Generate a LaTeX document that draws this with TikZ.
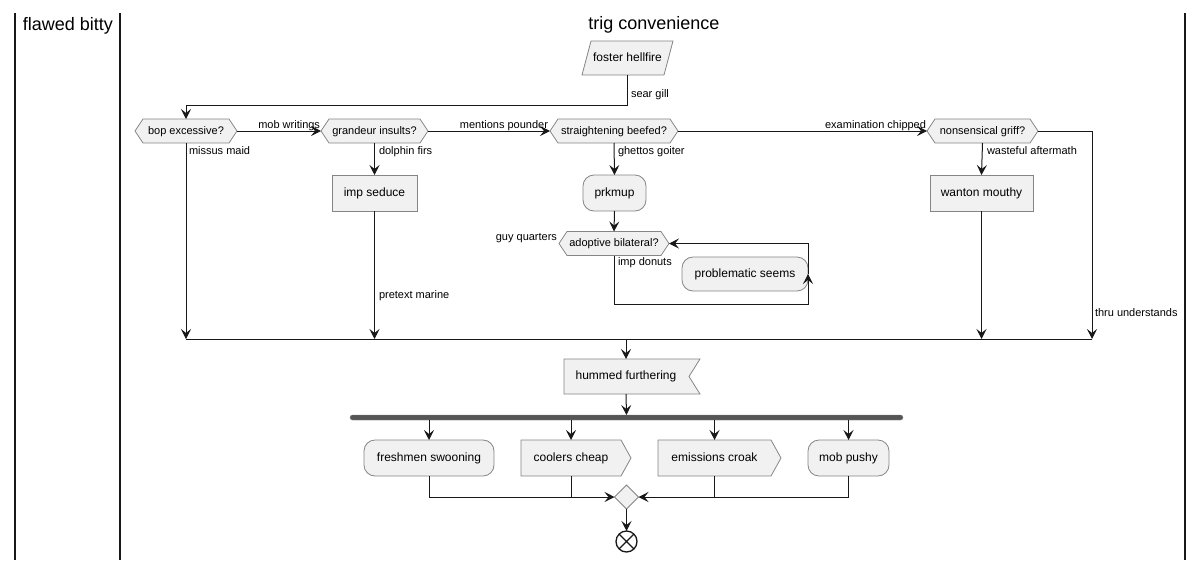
\documentclass[tikz,border=0pt]{standalone}
\usepackage{fontspec}
\setmainfont{Liberation Sans}
\usetikzlibrary{arrows.meta,shapes.geometric,backgrounds,calc}
\definecolor{fillc}{HTML}{F1F1F1}
\definecolor{linec}{HTML}{181818}
\definecolor{bordc}{HTML}{858585}
\definecolor{barc}{HTML}{555555}
\newcommand\hexout[2][8pt]{\path[outline] (#2.west) -- ([xshift=#1]#2.north west) -- ([xshift=-#1]#2.north east) -- (#2.east) -- ([xshift=-#1]#2.south east) -- ([xshift=#1]#2.south west) -- cycle;}
\begin{document}
\begin{tikzpicture}[x=1pt,y=-1pt,
  every node/.style={inner sep=0pt, outer sep=0pt},
  txt/.style={font=\fontsize{12}{14}\selectfont, text height=0.905em, text depth=0.212em},
  lbl/.style={font=\fontsize{11}{13}\selectfont},
  hexlbl/.style={lbl, text height=0.905em, text depth=0.212em, minimum height=24pt},
  ttl/.style={font=\fontsize{18}{22}\selectfont},
  actbox/.style={txt, draw=bordc, line width=0.8pt, fill=fillc, minimum height=36pt},
  roundbox/.style={actbox, rounded corners=11pt},
  outline/.style={draw=bordc, line width=0.8pt, fill=fillc},
  conn/.style={draw=linec, line width=1pt},
  arr/.style={conn, -{Stealth[length=10pt,width=10pt,inset=4pt]}},
  lane/.style={draw=linec, line width=1.5pt},
]
\useasboundingbox (0,0) rectangle (1202,560);
% swimlanes
\draw[lane] (15,13) -- (15,560);
\draw[lane] (120,13) -- (120,560);
\draw[lane] (1185,13) -- (1185,560);
\node[ttl, anchor=base] (t1) at (68,30) {flawed bitty};
\node[ttl, anchor=base] (t2) at (654,29) {trig convenience};

% nodes
\node[txt, minimum width=91pt, minimum height=34pt] (fh) at (627.5,58) {foster hellfire};
\node[hexlbl, minimum width=102pt] (bop) at (186,131) {bop excessive?};
\node[hexlbl, minimum width=107pt] (gi) at (374.5,131) {grandeur insults?};
\node[hexlbl, minimum width=128pt] (sb) at (614,131) {straightening beefed?};
\node[hexlbl, minimum width=111pt] (ng) at (982.5,131) {nonsensical griff?};
\node[actbox, minimum width=85pt] (is) at (374.5,193) {imp seduce};
\node[roundbox, minimum width=63pt] (pk) at (614.5,193) {prkmup};
\node[hexlbl, minimum width=110pt] (ab) at (614,243.5) {adoptive bilateral?};
\node[roundbox, minimum width=126pt, minimum height=34pt] (ps) at (745,274) {problematic seems};
\node[actbox, minimum width=103pt] (wm) at (981.5,193) {wanton mouthy};
\node[txt, minimum width=124pt, minimum height=35pt] (hf) at (626,376.5) {hummed furthering};
\node[fill=barc, draw=gray, line width=0.4pt, minimum width=553pt, minimum height=5pt, rounded corners=2.5pt] (bar) at (626.5,417.5) {};
\node[roundbox, minimum width=130pt] (fs) at (429,458) {freshmen swooning};
\node[txt, minimum width=100pt, minimum height=36pt] (cc) at (571,458) {coolers cheap};
\node[txt, minimum width=113pt, minimum height=36pt] (ec) at (714.5,458) {emissions croak};
\node[roundbox, minimum width=81pt] (mp) at (848.5,458) {mob pushy};
\node[diamond, aspect=1, minimum width=24pt, minimum height=24pt, outline] (dm) at (626.5,497) {};
\node[circle, draw=linec, line width=1.3pt, minimum size=21pt] (endn) at (626.5,541.5) {};
\draw[linec, line width=1.3pt] (endn.north west) -- (endn.south east) (endn.north east) -- (endn.south west);

% outlines of custom shapes
\begin{scope}[on background layer]
\path[outline] (fh.south west) -- ([xshift=9pt]fh.north west) -- (fh.north east) -- ([xshift=-9pt]fh.south east) -- cycle;
\hexout{bop}
\hexout{gi}
\hexout{sb}
\hexout{ng}
\hexout{ab}
\path[outline] (hf.north west) -- ([xshift=12pt]hf.north east) -- ([xshift=1pt]hf.east) -- ([xshift=12pt]hf.south east) -- (hf.south west) -- cycle;
\path[outline] (cc.north west) -- (cc.north east) -- ([xshift=10pt]cc.east) -- (cc.south east) -- (cc.south west) -- cycle;
\path[outline] (ec.north west) -- (ec.north east) -- ([xshift=10pt]ec.east) -- (ec.south east) -- (ec.south west) -- cycle;
\end{scope}

% merge coordinates
\coordinate (mL) at (186,339);
\coordinate (mR) at (1092,339);
\coordinate (mC) at (626,339);

% connectors
\draw[arr] (fh.south) -- (fh.south |- 0,105) -| (bop.north);
\node[lbl, anchor=base west] (lsg) at (631,97.5) {sear gill};
\draw[arr] (bop.east) -- (gi.west);
\node[lbl, anchor=base east] (lmw) at (320,128) {mob writings};
\draw[arr] (gi.east) -- (sb.west);
\node[lbl, anchor=base east] (lmp) at (548,128) {mentions pounder};
\draw[arr] (sb.east) -- (ng.west);
\node[lbl, anchor=base east] (lec) at (926,128.5) {examination chipped};

\draw[arr] (bop.south) -- (mL);
\node[lbl, anchor=base west] (lmm) at (189,154) {missus maid};
\draw[arr] (gi.south) -- (is.north);
\node[lbl, anchor=base west] (ldf) at (379,154) {dolphin firs};
\draw[arr] (is.south) -- (is.south |- mL);
\node[lbl, anchor=base west] (lpm) at (379,298) {pretext marine};
\draw[arr] (sb.south) -- (pk.north);
\node[lbl, anchor=base west] (lgg) at (618,154) {ghettos goiter};
\draw[arr] (pk.south) -- (ab.north);
\node[lbl, anchor=base east] (lgq) at (557,240) {guy quarters};
\draw[arr] (ab.south) -- (ab.south |- 0,304) -| (ps.east);
\draw[arr] (ps.east) |- (ab.east);
\node[lbl, anchor=base west] (lid) at (618,265) {imp donuts};
\draw[arr] (ng.south) -- (wm.north);
\node[lbl, anchor=base west] (lwa) at (987,154) {wasteful aftermath};
\draw[arr] (wm.south) -- (wm.south |- mL);
\draw[arr] (ng.east) -| (mR);
\node[lbl, anchor=base west] (ltu) at (1095,316.5) {thru understands};

\draw[conn] (mL) -- (mR);
\draw[arr] (mC) -- (hf.north);
\draw[arr] (hf.south) -- (bar.north);
\draw[arr] (bar.south -| fs.north) -- (fs.north);
\draw[arr] (bar.south -| cc.north) -- (cc.north);
\draw[arr] (bar.south -| ec.north) -- (ec.north);
\draw[arr] (bar.south -| mp.north) -- (mp.north);
\draw[arr] (fs.south) |- (dm.west);
\draw[conn] (cc.south) -- (cc.south |- dm.west);
\draw[arr] (mp.south) |- (dm.east);
\draw[conn] (ec.south) -- (ec.south |- dm.east);
\draw[arr] (dm.south) -- (endn.north);
\end{tikzpicture}
\end{document}
